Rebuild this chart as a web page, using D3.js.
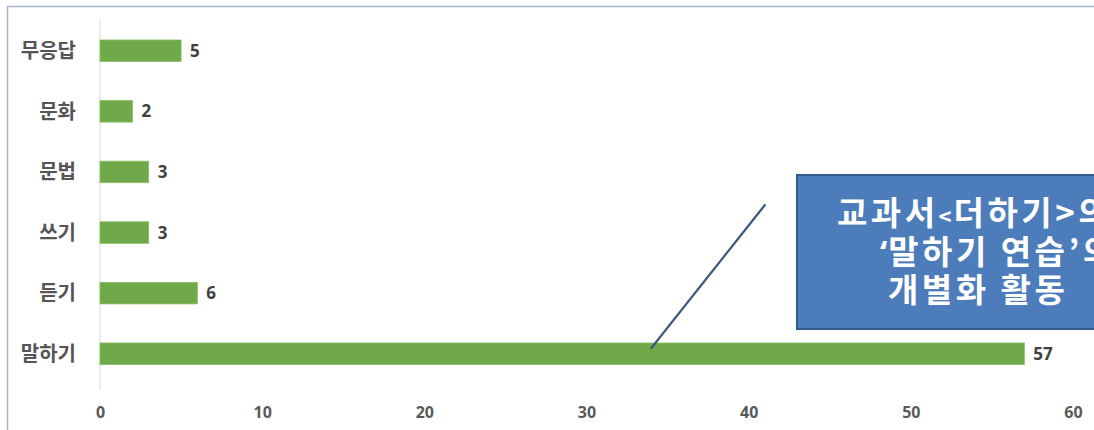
<!DOCTYPE html>
<html><head><meta charset="utf-8">
<script src="https://cdn.jsdelivr.net/npm/d3@7"></script>
<style>
html,body{margin:0;padding:0;background:#fff;overflow:hidden;}
svg{display:block;}
</style></head>
<body>
<svg id="c" width="1094" height="430"></svg>
<script>
const categories = ["무응답","문화","문법","쓰기","듣기","말하기"];
const values = [5,2,3,3,6,57];
const xTicks = [0,10,20,30,40,50,60];
// callout lines as pieces: [text, style]
const calloutLines = [
  [["교과서",0],["<",1],["더하기>의",0]],
  [["‘",2],["말하기 연습’의",0]],
  [["개별화 활동",0]]
];
const calloutStarts = [837, 880, 888];

const svg = d3.select("#c");
const W = 1094, H = 430;

// chart frame
svg.append("path").attr("d", `M7.5,${H} V6.5 H${W}`).attr("fill","none")
  .attr("stroke","#a7b8cc").attr("stroke-width",1.5);

const x = d3.scaleLinear().domain([0,60]).range([100,1073]);
const y = d3.scaleBand().domain(categories).range([20,384.5]).paddingInner(0.645).paddingOuter(0.33);

// category axis line
svg.append("line").attr("x1",x(0)).attr("x2",x(0)).attr("y1",20).attr("y2",390)
  .attr("stroke","#dcdcdc").attr("stroke-width",1);

// bars
svg.selectAll("rect.bar").data(categories).join("rect").attr("class","bar")
  .attr("x",x(0)).attr("y",d=>y(d))
  .attr("width",(d,i)=>x(values[i])-x(0)).attr("height",y.bandwidth())
  .attr("fill","#70a949").attr("stroke","#86bd62").attr("stroke-width",0.8);

// value labels
svg.selectAll("text.val").data(categories).join("text").attr("class","val")
  .attr("x",(d,i)=>x(values[i])+9).attr("y",d=>y(d)+y.bandwidth()/2)
  .attr("dy","0.36em").text((d,i)=>values[i])
  .attr("font-family","'Noto Sans', 'DejaVu Sans', sans-serif").attr("font-weight","bold")
  .attr("font-size",17).attr("fill","#404040");

// category labels
svg.selectAll("text.cat").data(categories).join("text").attr("class","cat")
  .attr("x",76).attr("y",d=>y(d)+y.bandwidth()/2).attr("dy","0.36em")
  .attr("text-anchor","end").text(d=>d)
  .attr("font-family","'Noto Sans CJK KR', sans-serif").attr("font-weight","bold")
  .attr("font-size",20).attr("fill","#555555");

// x axis tick labels
const xAxis = d3.axisBottom(x).tickValues(xTicks).tickSize(0).tickPadding(0);
const gx = svg.append("g").attr("transform","translate(0,408)").call(xAxis);
gx.select(".domain").remove();
gx.selectAll("text").attr("font-family","'Noto Sans', 'DejaVu Sans', sans-serif")
  .attr("font-weight","bold").attr("font-size",16).attr("fill","#595959").attr("dy","0.6em");

// leader line
svg.append("line").attr("x1",x(34.0)).attr("y1",348).attr("x2",x(41.0)).attr("y2",205)
  .attr("stroke","#3b5a82").attr("stroke-width",2.2).attr("stroke-linecap","round");

// callout box
svg.append("rect").attr("x",797).attr("y",175).attr("width",340).attr("height",154)
  .attr("fill","#4c7cb9").attr("stroke","#30598c").attr("stroke-width",2);

const tl = svg.selectAll("text.call").data(calloutLines).join("text").attr("class","call")
  .attr("x",(d,i)=>calloutStarts[i]).attr("y",(d,i)=>225+i*38.5)
  .attr("font-family","'Noto Sans CJK KR', sans-serif").attr("font-weight","bold")
  .attr("font-size",33).attr("letter-spacing",3.5).attr("fill","#ffffff");
tl.selectAll("tspan").data(d=>d).join("tspan")
  .text(p=>p[0])
  .attr("font-size",p=>p[1]===1?22:null)
  .attr("letter-spacing",p=>p[1]===1?2:(p[1]===2?1:null))
  .attr("font-family",p=>p[1]===2?"'Noto Sans', sans-serif":null);
</script>
</body></html>
